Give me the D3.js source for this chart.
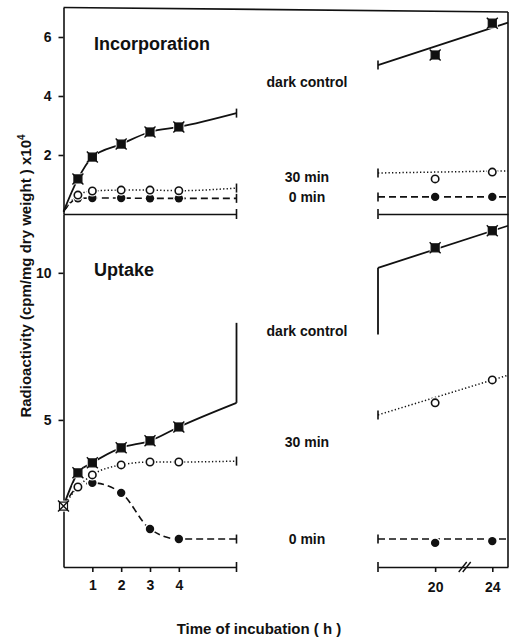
<!DOCTYPE html>
<html>
<head>
<meta charset="utf-8">
<script src="https://cdn.jsdelivr.net/npm/d3@7"></script>
<style>
body { margin: 0; background: #fff; }
text { font-family: "Liberation Sans", Arial, sans-serif; font-weight: bold; fill: #111; }
</style>
</head>
<body>
<script>
var width = 510, height = 637;

// sampling times (h)
var hours = [0, 0.5, 1, 2, 3, 4];
var lateHours = [20, 24];
var earlyTicks = [1, 2, 3, 4];
var lateTicks = [20, 24];
var earlyEnd = 6, lateStart = 16, lateEnd = 25.1;

// Incorporation, x10^4 cpm/mg dry weight  (dark control, 30 min, 0 min)
var incDark = [0.08, 1.19, 1.93, 2.37, 2.78, 2.95];
var inc30 = [0.08, 0.64, 0.78, 0.81, 0.81, 0.79];
var inc0 = [0.08, 0.53, 0.54, 0.54, 0.53, 0.53];
var incAt6h = [3.42, 0.88, 0.53];
var incDarkLate = [5.39, 6.47];
var inc30Late = [1.19, 1.42];
var inc0Late = [0.58, 0.58];
var incLateFit = [[5.05, 6.49], [1.39, 1.46], [0.58, 0.58]];  // straight line at 16 h and at the right edge

// Uptake, x10^4 cpm/mg dry weight
var upDark = [2.07, 3.2, 3.54, 4.05, 4.29, 4.76];
var up30 = [2.07, 2.72, 3.13, 3.47, 3.57, 3.57];
var up0 = [2.07, 2.72, 2.86, 2.52, 1.29, 0.95];
var upAt6h = [5.58, 3.6, 0.95];
var upDarkLate = [10.85, 11.43];
var up30Late = [5.58, 6.36];
var up0Late = [0.82, 0.88];
var upLateFit = [[10.17, 11.6], [5.17, 6.52], [0.95, 0.95]];
var upDarkBreak = [8.3, 7.9];   // top of the drop line at 6 h, foot of the rise line at 16 h

var incTicks = [2, 4, 6];
var upTicks = [5, 10];
var seriesNames = ["dark control", "30 min", "0 min"];

var svg = d3.select("body").append("svg")
    .attr("width", width)
    .attr("height", height);

var xE = d3.scaleLinear().domain([0, earlyEnd]).range([63.5, 236.5]);
var xL = d3.scaleLinear().domain([lateStart, lateEnd]).range([378, 508]);
var yInc = d3.scaleLinear().domain([0, 7]).range([214, 7.5]);
var yUp = d3.scaleLinear().domain([0, 12]).range([567, 214]);

var styles = [
  {dash: null, w: 1.8, marker: "square"},
  {dash: "1.3,2.2", w: 1.5, marker: "open"},
  {dash: "7,4", w: 1.6, marker: "filled"}
];

var panels = [
  {y: yInc, early: [incDark, inc30, inc0], at6: incAt6h, late: [incDarkLate, inc30Late, inc0Late],
   fit: incLateFit, ticks: incTicks, title: "Incorporation", titleY: 50, labelY: [87, 182, 202]},
  {y: yUp, early: [upDark, up30, up0], at6: upAt6h, late: [upDarkLate, up30Late, up0Late],
   fit: upLateFit, ticks: upTicks, title: "Uptake", titleY: 276, labelY: [336, 447, 544], bottom: true}
];

function marker(g, kind, cx, cy) {
  if (kind === "square" || kind === "cross") {
    g.append("rect").attr("x", cx - 5.5).attr("y", cy - 5.5).attr("width", 11).attr("height", 11).attr("fill", "#fff");
    g.append("rect").attr("x", cx - 4).attr("y", cy - 4).attr("width", 8).attr("height", 8)
      .attr("fill", kind === "square" ? "#111" : "#fff").attr("stroke", "#111").attr("stroke-width", 1.2);
    g.append("path")
      .attr("d", "M" + (cx - 5.5) + "," + (cy - 5.5) + "L" + (cx + 5.5) + "," + (cy + 5.5) +
                 "M" + (cx - 5.5) + "," + (cy + 5.5) + "L" + (cx + 5.5) + "," + (cy - 5.5))
      .attr("stroke", "#111").attr("stroke-width", 1.4);
  } else {
    g.append("circle").attr("cx", cx).attr("cy", cy).attr("r", 5.6).attr("fill", "#fff");
    g.append("circle").attr("cx", cx).attr("cy", cy).attr("r", kind === "open" ? 3.7 : 4.2)
      .attr("fill", kind === "open" ? "#fff" : "#111")
      .attr("stroke", "#111").attr("stroke-width", kind === "open" ? 1.6 : 0);
  }
}

function vline(x, y1, y2, w) {
  svg.append("line").attr("x1", x).attr("x2", x).attr("y1", y1).attr("y2", y2)
    .attr("stroke", "#111").attr("stroke-width", w || 1.6);
}

panels.forEach(function(p) {
  var y = p.y;

  // left axis
  var ax = svg.append("g")
      .attr("transform", "translate(" + xE(0) + ",0)")
      .call(d3.axisLeft(y).tickValues(p.ticks).tickSize(5).tickSizeOuter(0).tickPadding(7).tickFormat(d3.format("d")));
  ax.attr("font-size", 14).attr("font-family", null);
  ax.selectAll("path, line").attr("stroke", "#111").attr("stroke-width", 1.6);

  // baselines, early and late
  var base = y(0);
  var gE = svg.append("g").attr("transform", "translate(0," + base + ")")
      .call(d3.axisBottom(xE).tickValues(p.bottom ? earlyTicks : []).tickSize(5).tickSizeOuter(0)
        .tickPadding(8).tickFormat(d3.format("d")));
  var gL = svg.append("g").attr("transform", "translate(0," + base + ")")
      .call(d3.axisBottom(xL).tickValues(p.bottom ? lateTicks : []).tickSize(5).tickSizeOuter(0)
        .tickPadding(10).tickFormat(d3.format("d")));
  [gE, gL].forEach(function(g) {
    g.attr("font-size", 14).attr("font-family", null);
    g.selectAll("path, line").attr("stroke", "#111").attr("stroke-width", 1.6);
  });
  vline(xE(earlyEnd), base - 5, base + 5);
  vline(xL(lateStart), base - 5, base + 5);

  if (p.bottom) {
    // axis break between 20 and 24 h
    [0, 4].forEach(function(d) {
      var bx = xL(22) + d;
      svg.append("line").attr("x1", bx - 5).attr("y1", base + 5).attr("x2", bx + 3).attr("y2", base - 5)
        .attr("stroke", "#111").attr("stroke-width", 1.4);
    });
  }

  var curve = d3.line().curve(d3.curveMonotoneX);

  p.early.forEach(function(vals, i) {
    var st = styles[i];
    var pts = hours.map(function(h, k) { return [xE(h), y(vals[k])]; });
    pts.push([xE(earlyEnd), y(p.at6[i])]);
    var lp = [[xL(lateStart), y(p.fit[i][0])], [xL(lateEnd), y(p.fit[i][1])]];

    [curve(pts), d3.line()(lp)].forEach(function(d) {
      svg.append("path").attr("d", d).attr("fill", "none").attr("stroke", "#111")
        .attr("stroke-width", st.w).attr("stroke-dasharray", st.dash);
    });

    if (p.bottom && i === 0) {
      vline(xE(earlyEnd), y(p.at6[i]), y(upDarkBreak[0]), 1.8);
      vline(xL(lateStart), y(upDarkBreak[1]), y(p.fit[i][0]), 1.8);
    } else {
      vline(xE(earlyEnd), y(p.at6[i]) - 4.5, y(p.at6[i]) + 4.5);
      vline(xL(lateStart), y(p.fit[i][0]) - 4.5, y(p.fit[i][0]) + 4.5);
    }
  });

  // markers on top of the lines, drawn last series first
  var mg = svg.append("g");
  [2, 1, 0].forEach(function(i) {
    var vals = p.early[i];
    hours.forEach(function(h, k) {
      if (k === 0) {
        if (p.bottom && i === 0) marker(mg, "cross", xE(h), y(vals[k]));
        return;
      }
      marker(mg, styles[i].marker, xE(h), y(vals[k]));
    });
    lateHours.forEach(function(h, k) {
      marker(mg, styles[i].marker, xL(h), y(p.late[i][k]));
    });
  });

  svg.append("text").attr("x", 94).attr("y", p.titleY).attr("font-size", 18).text(p.title);

  seriesNames.forEach(function(n, i) {
    svg.append("text").attr("x", 307).attr("y", p.labelY[i]).attr("text-anchor", "middle")
      .attr("font-size", 14).text(n);
  });
});

// frame: top edge and right edge
svg.append("line").attr("x1", xE(0)).attr("y1", yInc(7)).attr("x2", xL(lateEnd)).attr("y2", yInc(6.85))
  .attr("stroke", "#111").attr("stroke-width", 1.6);
vline(xL(lateEnd), yInc(6.85), yUp(0));

// axis titles
svg.append("text").attr("x", 259).attr("y", 634).attr("text-anchor", "middle").attr("font-size", 15)
  .text("Time of incubation ( h )");

var yt = svg.append("text").attr("transform", "translate(31,276) rotate(-90)")
  .attr("text-anchor", "middle").attr("font-size", 15);
yt.append("tspan").text("Radioactivity (cpm/mg  dry  weight ) x10");
yt.append("tspan").attr("dy", -6).attr("font-size", 10).text("4");
</script>
</body>
</html>
